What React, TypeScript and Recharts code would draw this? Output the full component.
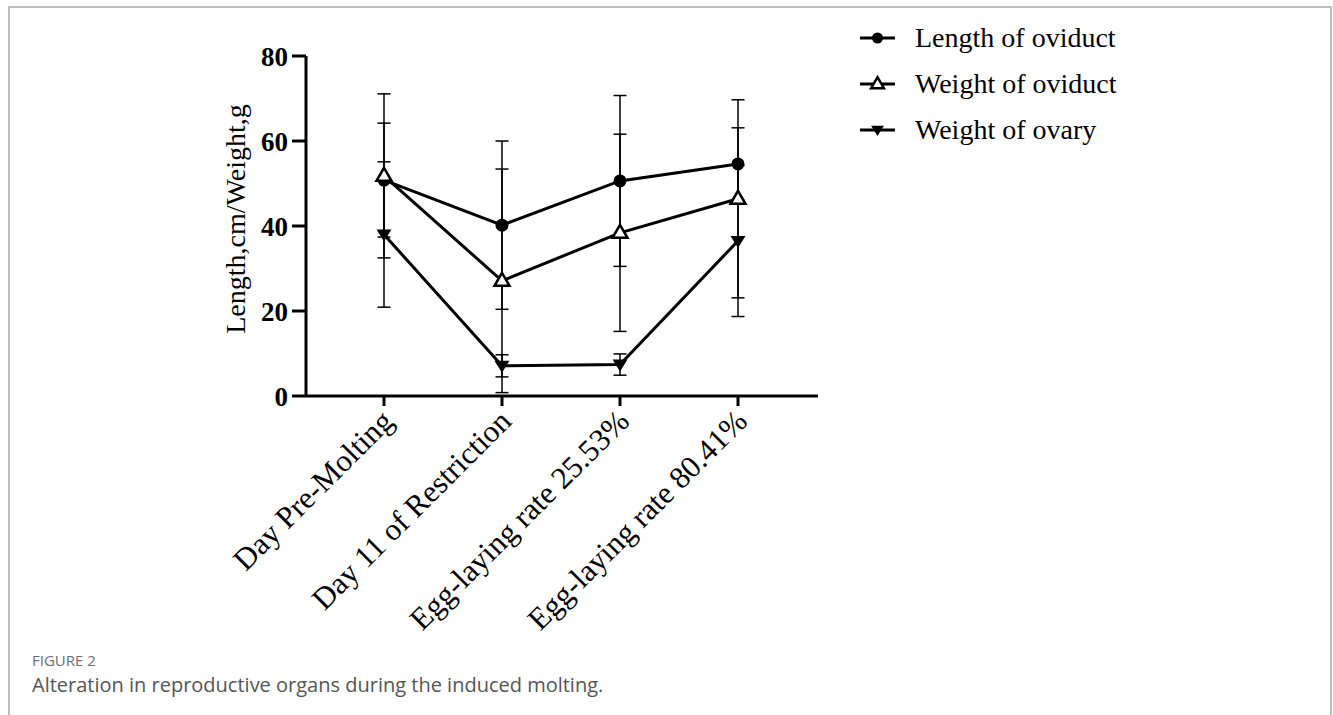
import React from 'react'
import { LineChart, Line, XAxis, YAxis, ErrorBar, Legend } from 'recharts'

// ---------------------------------------------------------------------------
// Data
// ---------------------------------------------------------------------------

const CATEGORIES = [
  'Day Pre-Molting',
  'Day 11 of Restriction',
  'Egg-laying rate 25.53%',
  'Egg-laying rate 80.41%',
]

const LENGTH_OVIDUCT = [50.8, 40.2, 50.6, 54.6]
const LENGTH_OVIDUCT_SD = [13.4, 19.8, 20.1, 8.5]

const WEIGHT_OVIDUCT = [51.8, 27.1, 38.4, 46.4]
const WEIGHT_OVIDUCT_SD = [19.3, 26.3, 23.2, 23.3]

const WEIGHT_OVARY = [38.0, 7.1, 7.4, 36.5]
const WEIGHT_OVARY_SD = [17.1, 2.6, 2.5, 17.8]

const Y_TICKS = [0, 20, 40, 60, 80]
const X_TICKS = CATEGORIES.map((_, i) => i)

const SERIF = '"Liberation Serif", "Times New Roman", serif'
const SANS = '"Open Sans", "Noto Sans", sans-serif'

type Marker = 'circle' | 'triUp' | 'triDown'

const SERIES: { key: string; sdKey: string; name: string; marker: Marker }[] = [
  { key: 'lenOviduct', sdKey: 'lenOviductSd', name: 'Length of oviduct', marker: 'circle' },
  { key: 'wtOviduct', sdKey: 'wtOviductSd', name: 'Weight of oviduct', marker: 'triUp' },
  { key: 'wtOvary', sdKey: 'wtOvarySd', name: 'Weight of ovary', marker: 'triDown' },
]

const data = CATEGORIES.map((c, i) => ({
  x: i,
  category: c,
  lenOviduct: LENGTH_OVIDUCT[i],
  lenOviductSd: LENGTH_OVIDUCT_SD[i],
  wtOviduct: WEIGHT_OVIDUCT[i],
  wtOviductSd: WEIGHT_OVIDUCT_SD[i],
  wtOvary: WEIGHT_OVARY[i],
  wtOvarySd: WEIGHT_OVARY_SD[i],
}))

// ---------------------------------------------------------------------------
// Markers
// ---------------------------------------------------------------------------

function markerShape(marker: Marker, cx: number, cy: number, s = 1) {
  if (marker === 'circle') {
    return <circle cx={cx} cy={cy} r={6.5 * s} fill="#000" />
  }
  if (marker === 'triUp') {
    return (
      <polygon
        points={`${cx},${cy - 8 * s} ${cx + 7.5 * s},${cy + 5 * s} ${cx - 7.5 * s},${cy + 5 * s}`}
        fill="#fff"
        stroke="#000"
        strokeWidth={2.5}
        strokeLinejoin="miter"
      />
    )
  }
  return (
    <polygon
      points={`${cx - 7.5 * s},${cy - 5 * s} ${cx + 7.5 * s},${cy - 5 * s} ${cx},${cy + 7 * s}`}
      fill="#000"
    />
  )
}

const makeDot = (marker: Marker) => (p: any) => (
  <g key={`dot-${marker}-${p.index}`}>{markerShape(marker, p.cx, p.cy)}</g>
)

const XTick = (props: any) => {
  const { x, y, payload } = props
  const tx = x + 11
  const ty = y + 15
  return (
    <text
      x={tx}
      y={ty}
      transform={`rotate(-45 ${tx} ${ty})`}
      textAnchor="end"
      fontFamily={SERIF}
      fontSize={31}
      fill="#000"
    >
      {CATEGORIES[payload.value]}
    </text>
  )
}

const YLabel = (props: any) => {
  const { viewBox } = props
  const tx = viewBox.x + 19
  const ty = viewBox.y + viewBox.height / 2 - 7
  return (
    <text
      x={tx}
      y={ty}
      transform={`rotate(-90 ${tx} ${ty})`}
      textAnchor="middle"
      fontFamily={SERIF}
      fontSize={28}
      fill="#000"
    >
      Length,cm/Weight,g
    </text>
  )
}

const LegendContent = () => (
  <div style={{ fontFamily: SERIF, fontSize: 28, color: '#000' }}>
    {SERIES.map(s => (
      <div key={s.key} style={{ display: 'flex', alignItems: 'center', height: 46 }}>
        <svg width={40} height={24} style={{ display: 'block' }}>
          <line x1={2} x2={37} y1={12} y2={12} stroke="#000" strokeWidth={3} />
          {markerShape(s.marker, 19.5, 12, 0.85)}
        </svg>
        <span style={{ marginLeft: 17, lineHeight: 1 }}>{s.name}</span>
      </div>
    ))}
  </div>
)

// ---------------------------------------------------------------------------
// Component
// ---------------------------------------------------------------------------

export default function App() {
  return (
    <div style={{ position: 'absolute', left: 0, top: 0, width: 1333, height: 715, background: '#fff', overflow: 'hidden' }}>
      <div
        style={{
          position: 'absolute',
          left: 8,
          top: 6,
          width: 1324,
          height: 709,
          boxSizing: 'border-box',
          borderTop: '2px solid #bdbdbd',
          borderLeft: '2px solid #bdbdbd',
          borderRight: '2px solid #bdbdbd',
        }}
      />
      <div style={{ position: 'absolute', left: 0, top: 0 }}>
        <LineChart
          width={1333}
          height={715}
          data={data}
          margin={{ top: 56, right: 515, bottom: 119, left: 226 }}
        >
          <XAxis
            type="number"
            dataKey="x"
            domain={[-0.661, 3.678]}
            ticks={X_TICKS}
            interval={0}
            height={200}
            tickSize={10}
            tickMargin={2}
            axisLine={{ stroke: '#000', strokeWidth: 3 }}
            tickLine={{ stroke: '#000', strokeWidth: 3 }}
            tick={<XTick />}
          />
          <YAxis
            type="number"
            domain={[0, 80]}
            ticks={Y_TICKS}
            width={80}
            tickSize={14}
            tickMargin={4}
            axisLine={{ stroke: '#000', strokeWidth: 3 }}
            tickLine={{ stroke: '#000', strokeWidth: 3 }}
            tick={{ fill: '#000', fontFamily: SERIF, fontSize: 27, fontWeight: 'bold' }}
            label={<YLabel />}
          />
          {SERIES.map(s => (
            <Line
              key={s.key}
              dataKey={s.key}
              name={s.name}
              type="linear"
              stroke="#000"
              strokeWidth={3}
              dot={makeDot(s.marker)}
              activeDot={false}
              isAnimationActive={false}
            >
              <ErrorBar dataKey={s.sdKey} width={6.5} stroke="#000" strokeWidth={1.5} direction="y" isAnimationActive={false} />
            </Line>
          ))}
          <Legend
            layout="horizontal"
            verticalAlign="middle"
            align="center"
            content={<LegendContent />}
            wrapperStyle={{ left: 858, top: 15, width: 340, height: 140 }}
          />
        </LineChart>
      </div>
      <div style={{ position: 'absolute', left: 32, top: 650, lineHeight: '20px', fontFamily: SANS, fontSize: 15, color: '#6e6e6e' }}>
        FIGURE 2
      </div>
      <div style={{ position: 'absolute', left: 32, top: 671, lineHeight: '28px', fontFamily: SANS, fontSize: 20, color: '#555' }}>
        Alteration in reproductive organs during the induced molting.
      </div>
    </div>
  )
}
